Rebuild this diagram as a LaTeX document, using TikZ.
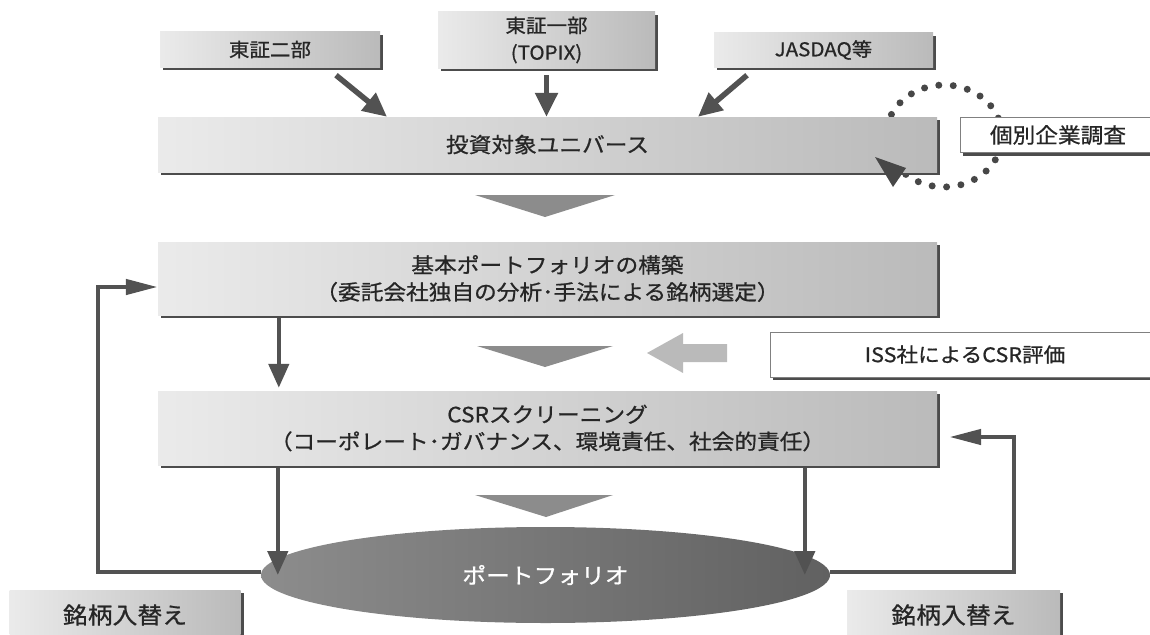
\documentclass[tikz,border=0pt]{standalone}
\usepackage{fontspec}
\newfontfamily\jp[FakeStretch=1.08,FakeBold=0.8]{Noto Sans CJK JP}
\usetikzlibrary{arrows.meta,shadows,shapes.geometric}
\tikzset{
  shad/.style={drop shadow={shadow xshift=3pt,shadow yshift=-3pt,opacity=1,fill=black!70}},
  gbox/.style={shad,left color=black!8,right color=black!27,inner sep=0pt,align=center,
    text=black!85,font=\jp\fontsize{21}{27}\selectfont},
  wbox/.style={shad,fill=white,draw=black!50,line width=1pt,inner sep=0pt,align=center,
    text=black!85,font=\jp\fontsize{20}{26}\selectfont},
  darr/.style={draw=black!68,line width=4.5pt,-{Triangle[length=24pt,width=20pt]}},
  tarr/.style={draw=black!68,line width=5.5pt,-{Triangle[length=24pt,width=22pt]}},
  fb/.style={draw=black!68,line width=4.5pt,-{Triangle[length=32pt,width=15pt]}},
  flowtri/.style={fill=black!45},
}
\begin{document}
\begin{tikzpicture}[x=1pt,y=-1pt]
\useasboundingbox (0,0) rectangle (1150,634);
\clip (0,0) rectangle (1150,634);
% dotted loop (behind the boxes)
\draw[black!72,line width=7pt,line cap=round,dash pattern=on 0pt off 14.5pt]
  plot[domain=205:498,samples=80] ({944+58*cos(\x)},{136+51*sin(\x)});
% top boxes
\node[gbox,minimum width=220,minimum height=35,font=\jp\fontsize{19}{27}\selectfont] (t2) at (270,49.5) {東証二部};
\node[gbox,minimum width=217,minimum height=56,font=\jp\fontsize{19}{27}\selectfont] (t1) at (546.5,40) {東証一部\\(TOPIX)};
\node[gbox,minimum width=219,minimum height=34,font=\jp\fontsize{19}{27}\selectfont] (jq) at (823.5,50) {JASDAQ等};
% main boxes
\node[gbox,minimum width=779,minimum height=55] (univ) at (547.5,144.5) {投資対象ユニバース};
\node[wbox,minimum width=196,minimum height=35,font=\jp\fontsize{21}{26}\selectfont] (kob) at (1058,135) {個別企業調査};
\node[gbox,minimum width=779,minimum height=73] (kihon) at (547.5,278.5) {基本ポートフォリオの構築\\（委託会社独自の分析･手法による銘柄選定）};
\node[gbox,minimum width=779,minimum height=74] (csr) at (547.5,428) {CSRスクリーニング\\（コーポレート･ガバナンス、環境責任、社会的責任）};
\node[wbox,minimum width=390,minimum height=45] (iss) at (965,354.5) {ISS社によるCSR評価};
\node[ellipse,inner sep=0pt,minimum width=569,minimum height=96,left color=black!45,right color=black!62,
  text=white,font=\jp\fontsize{22}{26}\selectfont] (port) at (545.5,575) {ポートフォリオ};
\node[gbox,minimum width=231,minimum height=50,font=\jp\fontsize{23}{27}\selectfont] (rl) at (125,615) {銘柄入替え};
\node[gbox,minimum width=213,minimum height=50,font=\jp\fontsize{23}{27}\selectfont] (rr) at (953.5,615) {銘柄入替え};
% loop arrowhead
\fill[black!72] (875,157) -- (906,168) -- (893,187) -- cycle;
% top arrows
\draw[tarr] ([xshift=66pt,yshift=-8pt]t2.south) -- ([xshift=-160.5pt]univ.north);
\draw[tarr] ([yshift=-7pt]t1.south) -- ([xshift=-1pt]univ.north);
\draw[tarr] ([xshift=-76.5pt,yshift=-8pt]jq.south) -- ([xshift=150.5pt]univ.north);
% flow triangles
\fill[flowtri] (475,195) -- (615,195) -- (545,217) -- cycle;
\fill[flowtri] (477,346) -- (613,346) -- (545,367) -- cycle;
\fill[flowtri] (475,495) -- (613,495) -- (546,517) -- cycle;
% gray block arrow from ISS
\fill[black!27] (647,353) -- (683,333) -- (683,344) -- (727,344) -- (727,362) -- (683,362) -- (683,373) -- cycle;
% down arrows
\draw[darr] ([xshift=121pt,yshift=-3pt]kihon.south west) -- ([xshift=121pt,yshift=3pt]csr.north west);
\draw[darr] ([xshift=120pt,yshift=-3pt]csr.south west) -- ([xshift=120pt]csr.south west |- port.center);
\draw[darr] ([xshift=647pt,yshift=-3pt]csr.south west) -- ([xshift=647pt]csr.south west |- port.center);
% feedback loops
\coordinate (fl) at (98,287);
\coordinate (fr) at (1014,437);
\draw[fb] ([yshift=3pt]port.west) -| (fl) -- ([yshift=-8.5pt]kihon.west);
\draw[fb] ([yshift=3pt]port.east) -| (fr) -- ([xshift=12pt,yshift=-9pt]csr.east);
\end{tikzpicture}
\end{document}
